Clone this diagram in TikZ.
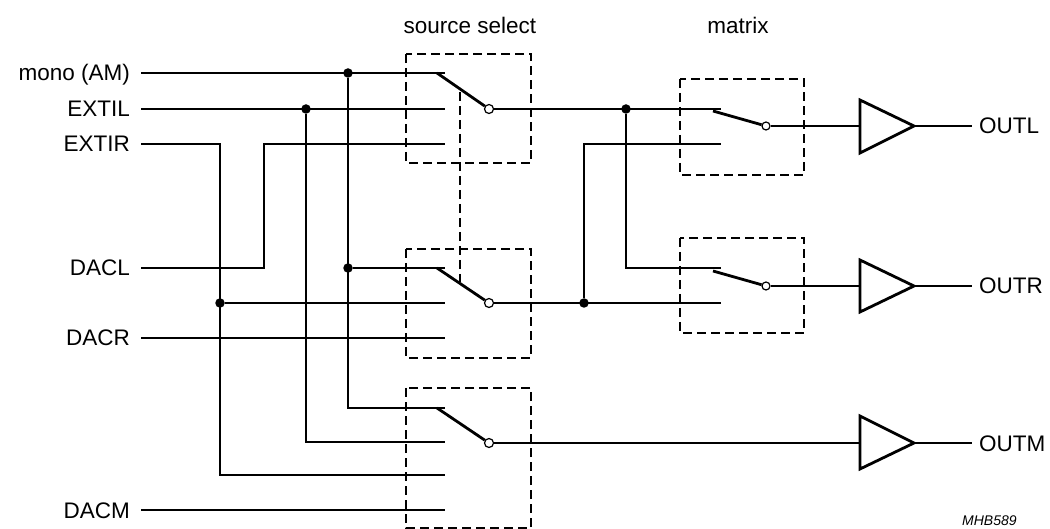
\documentclass[tikz,border=0pt]{standalone}
\usepackage{fontspec}
\setmainfont{Liberation Sans}
\begin{document}
\begin{tikzpicture}[x=1pt,y=-1pt,
  wire/.style={line width=1.3pt},
  blade/.style={line width=2.8pt},
  dbox/.style={line width=1.3pt, dash pattern=on 9pt off 5pt},
  jdot/.style={circle,fill,inner sep=0pt,minimum size=9.5pt},
  ocirc/.style={circle,draw,fill=white,line width=1.2pt,inner sep=0pt,minimum size=9pt},
  amp/.style={line width=2.8pt, line join=miter},
  lbl/.style={font=\fontsize{22.5}{26}\selectfont, inner sep=0pt},
  tag/.style={font=\fontsize{14}{16}\selectfont\itshape, inner sep=0pt}]
\useasboundingbox (0,0) rectangle (1050,529);

% titles
\node[lbl] (tsrc) at (470,25) {source select};
\node[lbl] (tmat) at (738,25) {matrix};

% input labels
\node[lbl,anchor=base east] (lmono) at (130,81) {mono (AM)};
\node[lbl,anchor=base east] (lextil) at (130,117) {EXTIL};
\node[lbl,anchor=base east] (lextir) at (130,152) {EXTIR};
\node[lbl,anchor=base east] (ldacl) at (130,276) {DACL};
\node[lbl,anchor=base east] (ldacr) at (130,346) {DACR};
\node[lbl,anchor=base east] (ldacm) at (130,518) {DACM};

% input wire starts
\coordinate (imono) at (141,73);
\coordinate (iextil) at (141,109);
\coordinate (iextir) at (141,144);
\coordinate (idacl) at (141,268);
\coordinate (idacr) at (141,338);
\coordinate (idacm) at (141,510);

% source select pins
\coordinate (s1a) at (445,73);
\coordinate (s1b) at (445,109);
\coordinate (s1c) at (445,144);
\coordinate (s2a) at (445,268);
\coordinate (s2b) at (445,303);
\coordinate (s2c) at (445,338);
\coordinate (s3a) at (445,408);
\coordinate (s3b) at (445,442);
\coordinate (s3c) at (445,475);
\coordinate (s3d) at (445,510);

% junctions
\node[jdot] (jmono1) at (348,73) {};
\node[jdot] (jmono2) at (348,268) {};
\node[jdot] (jextil) at (306,109) {};
\node[jdot] (jextir) at (220,303) {};
\node[jdot] (jout1) at (626,109) {};
\node[jdot] (jout2) at (584,303) {};

% input wiring
\draw[wire] (imono) -- (s1a);
\draw[wire] (jmono1) -- (jmono1 |- s3a) -- (s3a);
\draw[wire] (jmono2) -- (s2a);
\draw[wire] (iextil) -- (s1b);
\draw[wire] (jextil) -- (jextil |- s3b) -- (s3b);
\draw[wire] (iextir) -- (jextir |- iextir) -- (jextir |- s3c) -- (s3c);
\draw[wire] (jextir) -- (s2b);
\draw[wire] (idacl) -- (264,268) -- (264,144) -- (s1c);
\draw[wire] (idacr) -- (s2c);
\draw[wire] (idacm) -- (s3d);

% source select boxes
\draw[dbox] (406,54) rectangle (531,163);
\draw[dbox] (406,249) rectangle (531,358);
\draw[dbox] (406,388) rectangle (531,528);
\draw[dbox] (460,92) -- (460,282);

% source switches
\node[ocirc] (c1) at (489,109) {};
\node[ocirc] (c2) at (489,303) {};
\node[ocirc] (c3) at (489,443) {};
\draw[blade] (437,73) -- (c1);
\draw[blade] (437,268) -- (c2);
\draw[blade] (437,408) -- (c3);

% matrix pins
\coordinate (m1a) at (721,109);
\coordinate (m1b) at (721,144);
\coordinate (m2a) at (721,268);
\coordinate (m2b) at (721,303);

% middle wiring
\draw[wire] (c1) -- (m1a);
\draw[wire] (jout1) -- (jout1 |- m2a) -- (m2a);
\draw[wire] (c2) -- (m2b);
\draw[wire] (jout2) -- (jout2 |- m1b) -- (m1b);

% matrix boxes
\draw[dbox] (680,79) rectangle (804,175);
\draw[dbox] (680,238) rectangle (804,333);
\node[ocirc,minimum size=8pt] (mc1) at (766,126) {};
\node[ocirc,minimum size=8pt] (mc2) at (766,286) {};
\draw[blade] (713,111) -- (mc1);
\draw[blade] (713,271) -- (mc2);

% amplifiers
\coordinate (a1) at (860,126);
\coordinate (a2) at (860,286);
\coordinate (a3) at (860,443);
\draw[amp] (860,100) -- (914,126) -- (860,153) -- cycle;
\draw[amp] (860,260) -- (914,286) -- (860,312) -- cycle;
\draw[amp] (860,416) -- (914,443) -- (860,469) -- cycle;
\coordinate (t1) at (914,126);
\coordinate (t2) at (914,286);
\coordinate (t3) at (914,443);

\draw[wire] (mc1) -- (a1);
\draw[wire] (mc2) -- (a2);
\draw[wire] (c3) -- (a3);

% outputs
\node[lbl,anchor=base west] (outl) at (979,134) {OUTL};
\node[lbl,anchor=base west] (outr) at (979,294) {OUTR};
\node[lbl,anchor=base west] (outm) at (979,451) {OUTM};
\draw[wire] (t1) -- (972,126);
\draw[wire] (t2) -- (972,286);
\draw[wire] (t3) -- (972,443);

\node[tag,anchor=base west] (code) at (962,525) {MHB589};
\end{tikzpicture}
\end{document}
